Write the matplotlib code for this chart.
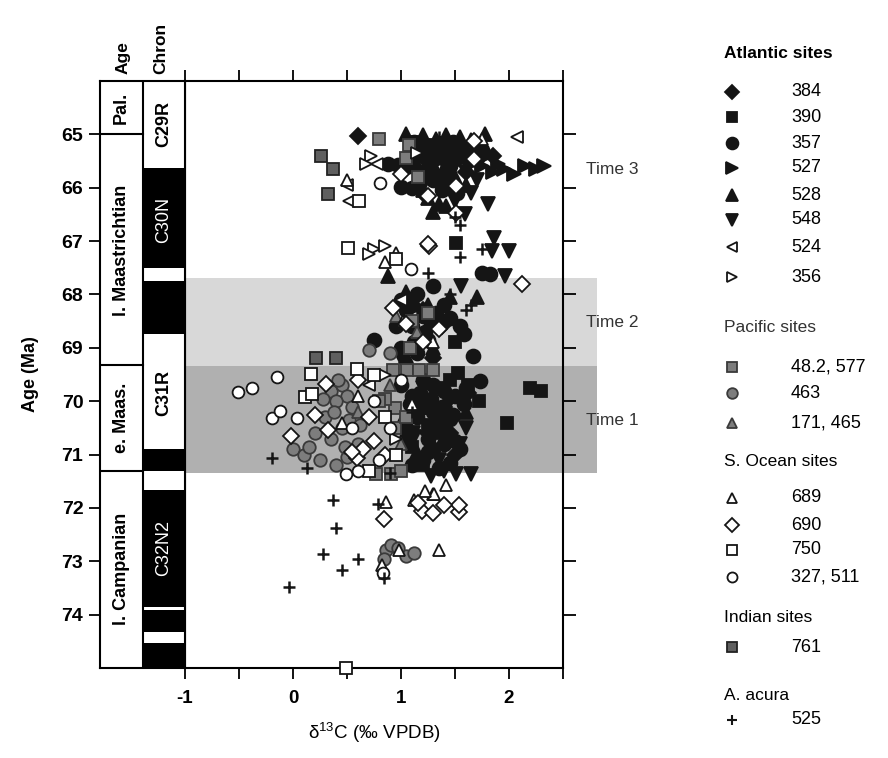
import matplotlib.pyplot as plt
import matplotlib

matplotlib.rcParams['font.family'] = ['Liberation Sans', 'DejaVu Sans']

# ---- data (delta13C, age in Ma) ----
x_384 = [0.60, 1.30, 1.50, 1.70, 1.45, 1.20, 1.60, 1.85, 1.20, 1.30, 1.40, 1.25, 1.45, 1.50, 1.15, 1.38, 1.62]
y_384 = [65.04, 65.30, 65.50, 65.20, 65.90, 66.10, 65.70, 65.40, 68.30, 69.20, 70.10, 70.60, 70.60, 71.00, 65.65, 68.60, 69.85]

x_390 = [1.51, 1.53, 1.72, 2.19, 2.30, 1.98, 1.62, 1.45, 1.35, 1.15, 1.25, 1.10, 1.30, 1.20, 1.50, 1.25, 1.45, 1.10]
y_390 = [67.04, 69.47, 69.99, 69.75, 69.80, 70.40, 69.70, 69.60, 69.75, 70.00, 70.45, 70.85, 70.60, 71.20, 68.90, 65.20, 65.35, 65.15]

x_357 = [0.88, 0.97, 1.07, 1.00, 1.10, 1.18, 1.25, 1.35, 1.45, 1.55, 1.62, 1.30, 1.75, 1.40, 1.20,
         1.75, 1.82, 1.30, 1.15, 1.05, 1.20, 1.10, 1.35, 1.55, 1.58, 1.25, 1.00, 1.15, 1.67, 0.75, 1.40,
         1.73, 1.45, 1.20, 1.30, 1.40, 1.50, 1.60, 1.10, 1.20, 1.30, 1.35, 1.15, 1.05, 1.25, 1.40, 1.55,
         1.30, 1.20, 1.50, 1.10, 1.35,
         1.12, 1.22, 1.32, 1.42, 1.52, 1.28, 1.38, 1.48, 1.08, 1.18,
         1.00, 1.10, 1.22, 1.32, 1.12, 1.45, 0.95,
         1.00, 1.08, 1.18, 1.28, 1.38, 1.48, 1.58, 1.25, 1.05, 1.45]
y_357 = [65.55, 65.58, 65.60, 65.98, 66.00, 65.75, 65.50, 65.35, 65.60, 65.25, 65.45, 65.85, 65.30, 65.20, 65.30,
         67.60, 67.62, 67.85, 68.00, 68.30, 68.40, 68.60, 68.50, 68.60, 68.75, 68.85, 69.00, 69.10, 69.15, 68.85, 68.20,
         69.62, 70.33, 69.60, 69.70, 69.80, 69.90, 69.75, 69.90, 70.10, 70.20, 70.35, 70.30, 70.50, 70.70, 70.80, 70.90,
         70.90, 71.10, 70.75, 71.20, 71.25,
         65.15, 65.20, 65.45, 65.75, 66.10, 65.65, 66.05, 65.15, 65.40, 65.90,
         68.10, 68.20, 68.70, 68.35, 68.90, 68.45, 68.60,
         69.70, 70.05, 69.85, 69.95, 70.10, 70.25, 70.05, 70.95, 70.70, 71.15]

x_527 = [1.55, 1.65, 1.75, 1.85, 1.95, 2.05, 2.15, 2.25, 2.32, 1.90, 1.45, 1.60, 1.30, 1.80]
y_527 = [65.50, 65.55, 65.60, 65.70, 65.65, 65.75, 65.60, 65.65, 65.60, 65.55, 65.40, 65.30, 65.20, 65.40]

x_528 = [1.05, 1.20, 1.32, 1.42, 1.55, 1.65, 1.78, 1.25, 1.35, 1.30, 1.42, 1.20, 1.15, 1.50, 1.60,
         0.88, 1.05, 1.25, 1.45, 1.15, 1.30, 1.70, 1.20, 1.00, 1.35, 1.60, 1.15,
         1.10, 1.38, 1.68, 1.28, 1.05, 1.40]
y_528 = [65.00, 65.02, 65.08, 65.02, 65.05, 65.10, 65.00, 66.20, 66.30, 66.45, 66.35, 66.05, 65.40, 65.80, 65.95,
         67.65, 67.95, 68.20, 68.05, 68.75, 69.00, 68.05, 69.90, 70.40, 70.55, 70.20, 70.95,
         65.25, 65.70, 65.25, 68.55, 69.15, 70.45]

x_548 = [1.81, 1.59, 1.50, 1.70, 1.60, 1.40, 1.75, 1.45, 1.86, 1.84, 2.00, 1.56, 1.96, 1.05,
         1.11, 1.51, 1.65, 1.28, 1.12, 1.35, 1.20, 1.45, 1.60, 1.40, 1.00,
         1.65, 1.35, 1.25, 1.55]
y_548 = [66.31, 66.50, 66.25, 65.85, 65.70, 65.55, 65.45, 66.00, 66.94, 67.19, 67.19, 67.84, 67.65, 68.12,
         70.60, 71.36, 71.36, 71.40, 70.67, 71.10, 69.75, 70.00, 70.50, 71.30, 69.20,
         66.10, 65.90, 68.55, 70.80]

x_524 = [2.07, 0.50, 0.52, 0.78, 1.00, 0.70]
y_524 = [65.05, 65.95, 66.25, 65.55, 68.10, 69.70]

x_356 = [0.72, 0.68, 0.75, 0.85, 0.70, 1.15, 0.85, 0.95]
y_356 = [65.40, 65.55, 67.15, 67.10, 67.25, 65.35, 69.50, 70.70]

x_pac_sq = [0.80, 1.07, 1.05, 1.16, 1.06, 1.17, 1.30, 0.93, 0.77, 0.91, 1.00, 0.94, 0.94, 0.85, 1.10, 1.08, 1.25, 1.05, 0.80]
y_pac_sq = [65.09, 65.19, 65.45, 65.79, 69.41, 69.41, 69.41, 69.41, 71.36, 71.36, 71.30, 70.12, 70.50, 69.95, 68.50, 69.00, 68.35, 70.30, 70.00]

x_463 = [0.35, 0.45, 0.50, 0.40, 0.55, 0.30, 0.45, 0.20, 0.35, 0.00, 0.10, 0.60, 0.50, 0.25, 0.90, 0.70,
         0.86, 0.91, 1.05, 1.12, 0.84, 0.97,
         0.42, 0.52, 0.38, 0.28, 0.48, 0.62, 0.15, 0.40]
y_463 = [69.80, 69.70, 69.90, 70.00, 70.10, 70.30, 70.50, 70.60, 70.70, 70.90, 71.00, 70.80, 71.05, 71.10, 69.10, 69.05,
         72.79, 72.70, 72.90, 72.85, 72.95, 72.76,
         69.60, 70.35, 70.20, 69.95, 70.85, 70.45, 70.85, 71.20]

x_pac_tri = [0.95, 1.15, 0.90, 0.60, 1.00]
y_pac_tri = [68.40, 68.70, 69.70, 70.20, 70.80]

x_689 = [0.95, 0.85, 0.50, 1.02, 1.30, 0.60, 1.10, 0.45, 0.86, 1.12, 1.30, 1.42, 1.35, 0.98, 0.82, 1.31, 1.22, 1.75]
y_689 = [67.22, 67.40, 65.85, 68.50, 68.90, 69.90, 70.05, 70.40, 71.89, 71.86, 71.73, 71.58, 72.79, 72.79, 73.07, 71.73, 71.68, 65.08]

x_690 = [1.68, 1.68, 1.51, 1.25, 1.51, 1.00, 1.26, 2.12, 1.25, 0.93, 1.05, 1.20, 1.35, 0.31, 0.32, -0.02,
         0.59, 0.65, 0.55, 0.75, 0.85, 0.20, 0.60, 0.70, 0.84, 1.19, 1.30, 1.54, 1.54, 1.16, 1.40]
y_690 = [65.13, 65.47, 65.97, 66.16, 66.48, 65.75, 67.10, 67.80, 67.06, 68.25, 68.55, 68.90, 68.65, 69.67, 70.54, 70.65,
         71.07, 70.89, 70.95, 70.75, 71.00, 70.25, 69.60, 70.30, 72.20, 72.05, 72.10, 72.08, 71.95, 71.90, 71.95]

x_750 = [0.61, 0.51, 0.95, 0.17, 0.11, 0.18, 0.59, 0.49, 0.75, 0.85, 0.95, 0.70]
y_750 = [66.25, 67.13, 67.34, 69.49, 69.93, 69.86, 69.39, 75.00, 69.50, 70.30, 71.00, 71.30]

x_327 = [0.81, 1.09, -0.51, -0.38, -0.15, -0.19, 0.04, -0.12, 0.49, 0.60, 0.83, 0.55, 0.90, 0.75, 1.00, 0.80]
y_327 = [65.92, 67.52, 69.82, 69.75, 69.54, 70.31, 70.31, 70.18, 71.36, 71.30, 73.22, 70.50, 70.50, 70.00, 69.60, 71.10]

x_761 = [0.26, 0.37, 0.32, 0.21, 0.40]
y_761 = [65.41, 65.64, 66.12, 69.19, 69.19]

x_525 = [-0.19, 0.13, 0.37, 0.40, 0.28, 0.60, 0.45, -0.04, 0.79, 0.84, 1.35, 1.50, 1.75, 1.55, 1.25,
         1.60, 1.65, 1.45, 1.10, 0.90, 1.55]
y_525 = [71.06, 71.25, 71.86, 72.38, 72.87, 72.95, 73.17, 73.49, 71.92, 73.32, 65.05, 66.55, 67.15, 67.30, 67.60,
         68.30, 68.20, 68.00, 70.20, 71.35, 66.70]

# stratigraphy
age_bounds = [64, 65, 69.33, 71.3, 75]
age_names = ['Pal.', 'l. Maastrichtian', 'e. Maas.', 'l. Campanian']
chron_black = [(65.63, 67.5), (67.74, 68.74), (70.9, 71.31), (71.67, 73.85), (73.92, 74.32), (74.54, 75.0)]
chron_names = [('C29R', 64.8, 'k', 'bold'), ('C30N', 66.6, 'w', 'normal'),
               ('C31R', 69.85, 'k', 'bold'), ('C32N2', 72.75, 'w', 'normal')]

# series styles: (x, y, marker, face, edge, label, size)
BLK = '#151515'
GRY = '#7d7d7d'
series = [
    (x_384, y_384, 'D', BLK, BLK, '384', 8),
    (x_390, y_390, 's', BLK, BLK, '390', 9),
    (x_357, y_357, 'o', BLK, BLK, '357', 10),
    (x_527, y_527, '>', BLK, BLK, '527', 10),
    (x_528, y_528, '^', BLK, BLK, '528', 10),
    (x_548, y_548, 'v', BLK, BLK, '548', 10),
    (x_761, y_761, 's', '#5f5f5f', '#222222', '761', 8.5),
    (x_pac_sq, y_pac_sq, 's', GRY, '#3a3a3a', '48.2, 577', 8.5),
    (x_463, y_463, 'o', GRY, '#3a3a3a', '463', 9),
    (x_pac_tri, y_pac_tri, '^', GRY, '#3a3a3a', '171, 465', 9),
    (x_524, y_524, '<', 'white', BLK, '524', 8.5),
    (x_356, y_356, '>', 'white', BLK, '356', 8.5),
    (x_689, y_689, '^', 'white', BLK, '689', 9),
    (x_690, y_690, 'D', 'white', BLK, '690', 8),
    (x_750, y_750, 's', 'white', BLK, '750', 8.5),
    (x_327, y_327, 'o', 'white', BLK, '327, 511', 8.5),
    (x_525, y_525, '+', BLK, BLK, '525', 8),
]
style = {s[5]: s for s in series}

W, H = 888, 758
fig = plt.figure(figsize=(W / 100, H / 100), dpi=100)
top, bot = 81, 668
ax = fig.add_axes([185 / W, 1 - bot / H, (563 - 185) / W, (bot - top) / H])
cax = fig.add_axes([100 / W, 1 - bot / H, 85 / W, (bot - top) / H])

# bands
ax.axhspan(67.7, 69.35, xmin=0, xmax=1.09, color='#d8d8d8', lw=0, zorder=0, clip_on=False)
ax.axhspan(69.35, 71.35, xmin=0, xmax=1.09, color='#b0b0b0', lw=0, zorder=0, clip_on=False)

for xs, ys, m, fc, ec, lab, ms in series:
    ax.plot(xs, ys, ls='none', marker=m, ms=ms, mfc=fc, mec=ec,
            mew=1.8 if m == '+' else 1.3, clip_on=False, zorder=3)

ax.set_xlim(-1, 2.5)
ax.set_ylim(75, 64)
ax.set_xticks([-1, -0.5, 0, 0.5, 1, 1.5, 2, 2.5])
ax.set_xticklabels(['-1', '', '0', '', '1', '', '2', ''], fontsize=13.5, fontweight='bold')
ax.tick_params(axis='x', top=True, direction='out', length=8, width=1.3, pad=8)
ax.set_yticks(range(65, 75))
ax.tick_params(axis='y', left=False, right=True, labelleft=False, direction='out', length=9, width=1.3)
for sp in ax.spines.values():
    sp.set_linewidth(1.5)
ax.set_xlabel(r'$\mathregular{\delta^{13}}$C (‰ VPDB)', fontsize=13.5, labelpad=10)

for txt, yy in [('Time 3', 65.65), ('Time 2', 68.53), ('Time 1', 70.36)]:
    ax.text(2.96, yy, txt, fontsize=12.5, color='#333333', ha='center', va='center')

# stratigraphic column
cax.set_xlim(0, 2)
cax.set_ylim(75, 64)
for lo, hi in chron_black:
    cax.fill_betweenx([lo, hi], 1, 2, color='black', lw=0)
for b in age_bounds[1:-1]:
    cax.plot([0, 1], [b, b], color='black', lw=1.5)
cax.axvline(1, color='black', lw=1.5)
for i, name in enumerate(age_names):
    mid = (age_bounds[i] + age_bounds[i + 1]) / 2
    cax.text(0.5, mid, name, rotation=90, ha='center', va='center', fontsize=13, fontweight='bold')
for name, yy, c, fw in chron_names:
    cax.text(1.5, yy, name, rotation=90, ha='center', va='center', fontsize=13, fontweight=fw, color=c)
cax.set_xticks([])
cax.set_yticks(range(65, 75))
cax.set_yticklabels([str(v) for v in range(65, 75)], fontsize=14, fontweight='bold')
cax.tick_params(axis='y', direction='out', length=8, width=1.3, pad=4)
for sp in cax.spines.values():
    sp.set_linewidth(1.5)
cax.set_ylabel('Age (Ma)', fontsize=13, fontweight='bold', labelpad=16)
cax.text(0.27, 1.012, 'Age', transform=cax.transAxes, rotation=90, ha='center', va='bottom',
         fontsize=12.5, fontweight='bold')
cax.text(0.72, 1.012, 'Chron', transform=cax.transAxes, rotation=90, ha='center', va='bottom',
         fontsize=12.5, fontweight='bold')

# legend block (pixel layout)
lax = fig.add_axes([0, 0, 1, 1])
lax.set_xlim(0, W)
lax.set_ylim(H, 0)
lax.axis('off')
headers = [('Atlantic sites', 53, 'bold', 'black'), ('Pacific sites', 328, 'normal', '#333333'),
           ('S. Ocean sites', 462, 'normal', 'black'), ('Indian sites', 618, 'normal', 'black'),
           ('A. acura', 695, 'normal', 'black')]
for txt, yy, fw, c in headers:
    lax.text(724, yy, txt, fontsize=12.5, fontweight=fw, color=c, va='center')
entries = [('384', 92), ('390', 117), ('357', 143), ('527', 168), ('528', 195), ('548', 220),
           ('524', 247), ('356', 277), ('48.2, 577', 367), ('463', 393), ('171, 465', 423),
           ('689', 498), ('690', 525), ('750', 550), ('327, 511', 577), ('761', 647), ('525', 720)]
for lab, yy in entries:
    _, _, m, fc, ec, _, ms = style[lab]
    lax.plot([732], [yy], ls='none', marker=m, ms=ms * 0.85, mfc=fc, mec=ec,
             mew=1.5 if m == '+' else 1.3)
    lax.text(791, yy, lab, fontsize=13, va='center')

fig.savefig('out.png', dpi=100)
